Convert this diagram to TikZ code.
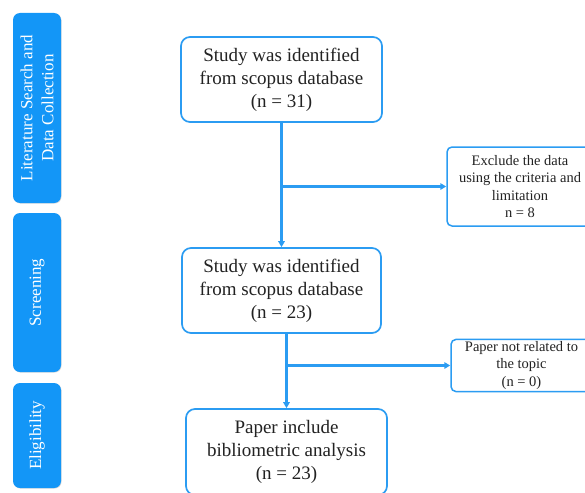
\documentclass[tikz,border=0pt]{standalone}
\usepackage{fontspec}
\setmainfont{Liberation Serif}
\usetikzlibrary{arrows.meta,shadows}
\definecolor{pfBlue}{HTML}{1396F7}
\definecolor{pfLine}{HTML}{2B9CF2}
\definecolor{pfInk}{HTML}{222222}
\tikzset{
  pf diagram/.style={x=1pt, y=-1pt, text=pfInk,
    line cap=round, line join=round},
  pf box/.style={draw=pfLine, fill=white, line width=1.7pt,
    rounded corners=9pt, align=center, inner sep=2pt,
    font=\fontsize{19}{23}\selectfont,
    drop shadow={shadow xshift=0.5pt, shadow yshift=-0.5pt, opacity=0.15}},
  pf side box/.style={pf box, rounded corners=5pt, line width=1.5pt,
    font=\fontsize{14.5}{17.5}\selectfont},
  pf stage/.style={fill=pfBlue, draw=none, rounded corners=7pt,
    text=white, align=center, rotate=90, inner sep=1pt,
    font=\fontsize{17}{21}\selectfont, minimum height=48pt,
    drop shadow={shadow xshift=0.6pt, shadow yshift=-0.6pt, opacity=0.3}},
  pf arrow/.style={-{Triangle[length=6pt,width=6.5pt]}, draw=pfLine,
    line width=2.1pt}
}
\begin{document}
\begin{tikzpicture}[pf diagram]
\useasboundingbox (0,0) rectangle (585,492);
\clip (0,0) rectangle (585,492);
% stages
\node[pf stage, minimum width=190pt] (lit) at (37,108) {Literature Search and\\Data Collection};
\node[pf stage, minimum width=159pt] (scr) at (37,292.5) {Screening};
\node[pf stage, minimum width=105pt] (eli) at (37,435.5) {Eligibility};
% flow
\node[pf box, minimum width=201pt, minimum height=85pt] (ident) at (281.5,79.5) {Study was identified\\from scopus database\\(n = 31)};
\node[pf box, minimum width=199pt, minimum height=85pt] (screen) at (281.5,290.5) {Study was identified\\from scopus database\\(n = 23)};
\node[pf box, minimum width=201pt, minimum height=86pt] (incl) at (286.5,452) {Paper include\\bibliometric analysis\\(n = 23)};
\node[pf side box, minimum width=146pt, minimum height=79pt] (excl) at (520,186.5) {Exclude the data\\using the criteria and\\limitation\\n = 8};
\node[pf side box, minimum width=141pt, minimum height=51pt] (notrel) at (521.5,365.5) {Paper not related to\\the topic\\(n = 0)};
\coordinate (split1) at (ident.south |- excl.west);
\coordinate (split2) at (incl.north |- notrel.west);
\draw[pf arrow] (ident.south) -- (screen.north);
\draw[pf arrow] (split1) -- (excl.west);
\draw[pf arrow] (incl.north |- screen.south) -- (incl.north);
\draw[pf arrow] (split2) -- (notrel.west);
\end{tikzpicture}
\end{document}
